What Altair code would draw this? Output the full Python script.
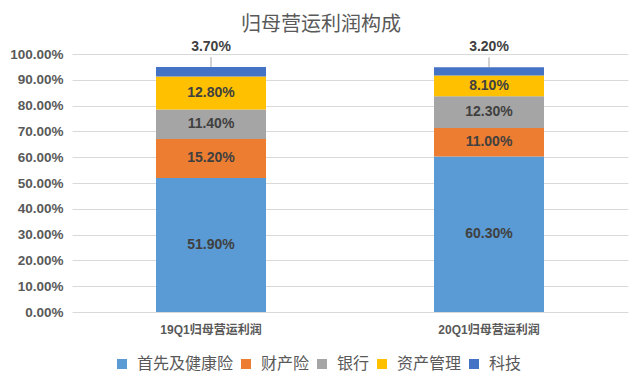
import altair as alt
import pandas as pd

categories = ["19Q1归母营运利润", "20Q1归母营运利润"]
series = ["首先及健康险", "财产险", "银行", "资产管理", "科技"]
colors = ["#5B9BD5", "#ED7D31", "#A5A5A5", "#FFC000", "#4472C4"]
values_19q1 = [51.9, 15.2, 11.4, 12.8, 3.7]
values_20q1 = [60.3, 11.0, 12.3, 8.1, 3.2]
y_ticks = [0, 10, 20, 30, 40, 50, 60, 70, 80, 90, 100]

rows = []
for cat, vals in zip(categories, [values_19q1, values_20q1]):
    for i, (s, v) in enumerate(zip(series, vals)):
        rows.append({"cat": cat, "series": s, "value": v, "order": i})
df = pd.DataFrame(rows)

FONT = "Liberation Sans, Arial, Noto Sans CJK SC"

base = alt.Chart(df).transform_stack(
    stack="value", groupby=["cat"], as_=["y0", "y1"], sort=[alt.SortField("order")]
).transform_calculate(
    mid="(datum.y0 + datum.y1) / 2",
    label="format(datum.value, '.2f') + '%'",
)

xaxis = alt.Axis(labelAngle=0, ticks=False, domain=False, labelPadding=12,
                 labelFontSize=12, labelFontWeight="bold", labelColor="#595959",
                 labelFont=FONT, grid=False, title=None)
xscale = alt.Scale(paddingInner=0, paddingOuter=0)
yaxis = alt.Axis(values=y_ticks, labelExpr="format(datum.value, '.2f') + '%'",
                 ticks=False, domain=False, gridColor="#D9D9D9", gridWidth=1,
                 labelPadding=9, labelFontSize=13.5, labelFontWeight="bold",
                 labelColor="#595959", labelFont=FONT, labelOverlap=False, title=None)
yscale = alt.Scale(domain=[0, 100], nice=False)

xn = alt.X("cat:N", sort=categories, axis=xaxis, scale=xscale, title=None)


def yenc(field):
    return alt.Y(field, type="quantitative", scale=yscale, axis=yaxis, title=None)


bars = base.mark_bar(size=110).encode(
    x=xn,
    y=yenc("y0"),
    y2="y1:Q",
    color=alt.Color("series:N", sort=series,
                    scale=alt.Scale(domain=series, range=colors),
                    legend=alt.Legend(title=None, orient="none", legendX=42, legendY=302,
                                      direction="horizontal", symbolType="square",
                                      symbolSize=100, symbolStrokeWidth=0,
                                      labelFontSize=16, labelColor="#595959", labelFont=FONT,
                                      labelLimit=300, columnPadding=4, labelOffset=7)),
    order=alt.Order("order:Q"),
)

inner = base.transform_filter("datum.order < 4").mark_text(
    fontSize=14, fontWeight="bold", color="#404040", font=FONT, baseline="middle"
).encode(
    x=xn,
    y=yenc("mid"),
    text="label:N",
)

top = base.transform_filter("datum.order == 4")

leader = top.transform_calculate(ytop="datum.y1 + 3.8").mark_rule(
    color="#A6A6A6", strokeWidth=1
).encode(
    x=xn,
    y=yenc("y1"),
    y2="ytop:Q",
)

toplabel = top.mark_text(
    fontSize=14, fontWeight="bold", color="#404040", font=FONT, baseline="middle", dy=-20
).encode(
    x=xn,
    y=yenc("y1"),
    text="label:N",
)

chart = alt.layer(bars, leader, inner, toplabel).properties(
    width=556, height=258,
    autosize=alt.AutoSizeParams(type="none"),
    padding={"left": 64, "top": 46, "right": 4, "bottom": 68},
    background="white",
    title=alt.TitleParams("归母营运利润构成", fontSize=20, fontWeight="normal", color="#595959",
                          font="Noto Sans CJK SC", anchor="middle", dx=-29, offset=5),
).configure_view(stroke=None)

chart.save("out.html", embed_options={"renderer": "svg", "actions": False})
